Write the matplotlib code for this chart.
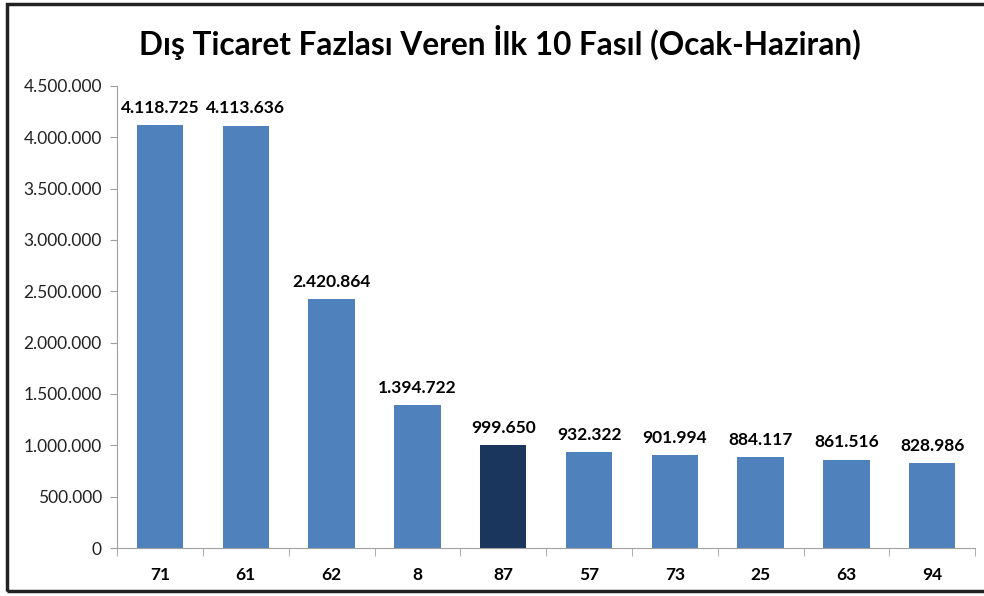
import matplotlib.pyplot as plt
from matplotlib.patches import Rectangle
import numpy as np

plt.rcParams['font.family'] = ['Lato', 'DejaVu Sans']

# veriler
fasil = ['71', '61', '62', '8', '87', '57', '73', '25', '63', '94']
deger = [4118725, 4113636, 2420864, 1394722, 999650, 932322, 901994, 884117, 861516, 828986]
renkler = ['#4F81BD'] * 10
renkler[4] = '#1B365D'

def nokta(v):
    return f"{v:,.0f}".replace(',', '.')

fig = plt.figure(figsize=(9.84, 5.96), dpi=100)
ax = fig.add_axes([0.119, 0.0805, 0.872, 0.7755])

x = np.arange(len(fasil))
ax.bar(x, deger, width=0.54, color=renkler, zorder=2)

for xi, v in zip(x, deger):
    ax.text(xi, v + 90000, nokta(v), ha='center', va='bottom',
            fontsize=12.5, fontweight='bold', color='black')

ax.set_xlim(-0.5, 9.5)
ax.set_ylim(0, 4500000)
ax.set_yticks(np.arange(0, 4500001, 500000))
ax.set_yticklabels([nokta(t) for t in np.arange(0, 4500001, 500000)], fontsize=12.5, color='#222222')
ax.set_xticks(x)
ax.set_xticklabels(fasil, fontsize=12.5, fontweight='bold')
ax.tick_params(axis='x', length=0, pad=14)
ax.set_xticks(np.arange(-0.5, 10, 1), minor=True)
ax.tick_params(axis='x', which='minor', length=6, color='#A0A0A0', direction='out')
ax.tick_params(axis='y', length=5, color='#A0A0A0', pad=6)

for s in ['top', 'right']:
    ax.spines[s].set_visible(False)
for s in ['left', 'bottom']:
    ax.spines[s].set_color('#A0A0A0')

fig.text(0.508, 0.928, 'Dış Ticaret Fazlası Veren İlk 10 Fasıl (Ocak-Haziran)',
         ha='center', va='center', fontsize=22.7, fontweight='bold')

# çerçeve
fig.patches.append(Rectangle((0.007, 0.008), 1.1, 0.986, transform=fig.transFigure,
                             fill=False, edgecolor='#222222', linewidth=2.5))

fig.savefig('out.png', dpi=100)
